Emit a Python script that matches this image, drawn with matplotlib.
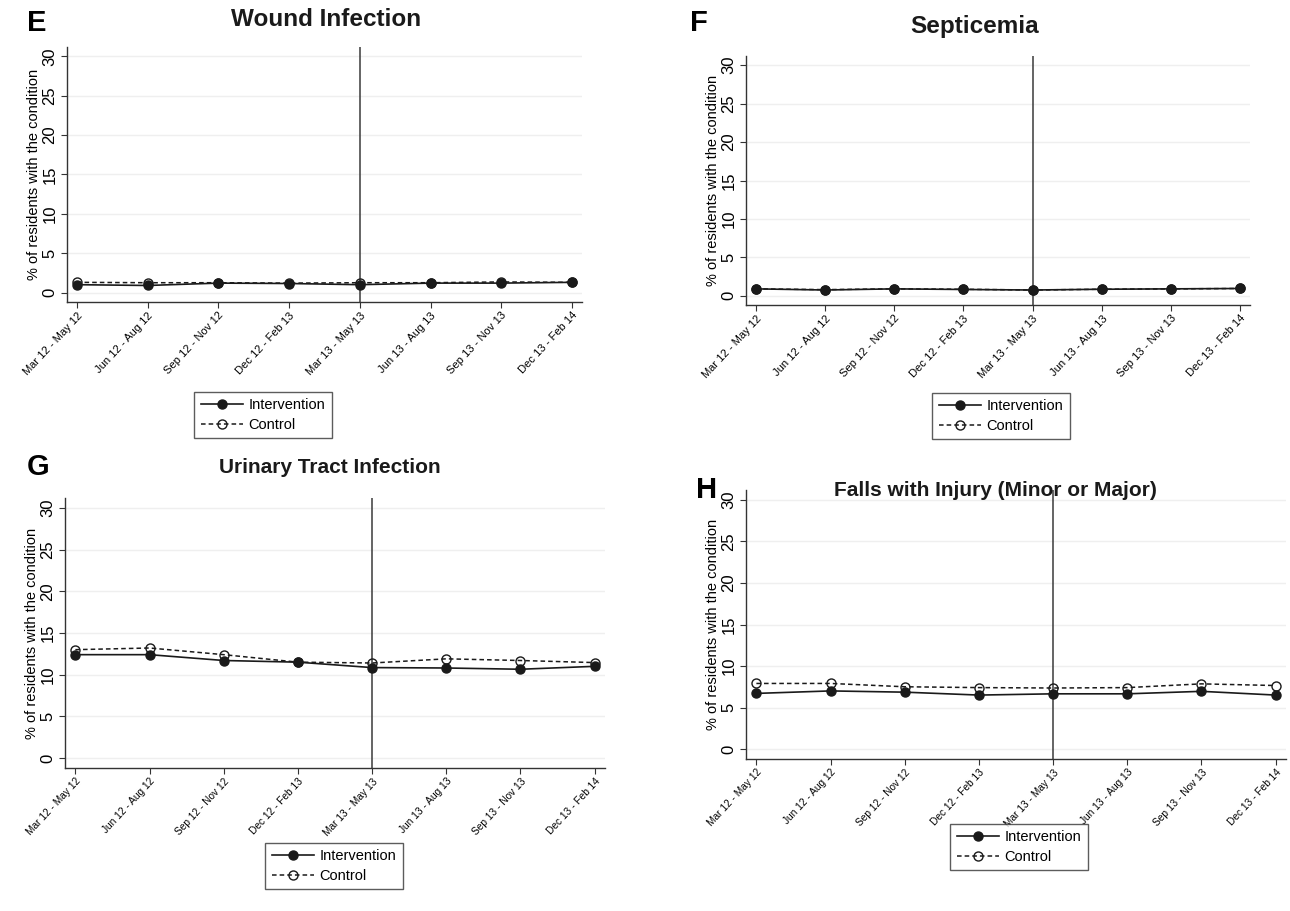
import matplotlib
matplotlib.use("Agg")
import matplotlib.pyplot as plt

plt.rcParams['font.family'] = ['Liberation Sans', 'DejaVu Sans']

periods = ["Mar 12 - May 12", "Jun 12 - Aug 12", "Sep 12 - Nov 12", "Dec 12 - Feb 13",
           "Mar 13 - May 13", "Jun 13 - Aug 13", "Sep 13 - Nov 13", "Dec 13 - Feb 14"]
yticks = [0, 5, 10, 15, 20, 25, 30]
series_names = ["Intervention", "Control"]

wound_int = [1.0, 0.9, 1.2, 1.15, 1.0, 1.2, 1.2, 1.3]
wound_ctl = [1.3, 1.25, 1.25, 1.2, 1.25, 1.25, 1.35, 1.3]

septic_int = [0.9, 0.75, 0.9, 0.82, 0.75, 0.85, 0.9, 0.95]
septic_ctl = [0.9, 0.8, 0.9, 0.85, 0.75, 0.85, 0.9, 0.95]

uti_int = [12.4, 12.4, 11.7, 11.5, 10.85, 10.8, 10.65, 11.0]
uti_ctl = [13.0, 13.2, 12.4, 11.5, 11.4, 11.9, 11.7, 11.45]

falls_int = [6.7, 7.0, 6.85, 6.5, 6.65, 6.65, 6.95, 6.5]
falls_ctl = [7.9, 7.9, 7.5, 7.4, 7.35, 7.4, 7.85, 7.65]

fig = plt.figure(figsize=(12.9, 9.11), dpi=100)
W, H = 1290, 911


def px_rect(x0, y0, x1, y1):
    # pixel box (top-left origin) -> figure fraction
    return [x0 / W, 1 - y1 / H, (x1 - x0) / W, (y1 - y0) / H]


def panel(rect, letter, letter_xy, title, title_xy, title_size, xlab_size,
          interv, control, legend_xy):
    ax = fig.add_axes(px_rect(*rect))
    x = list(range(len(periods)))
    ax.axvline(4, color='#3a3a3a', lw=1.1, zorder=1)
    for v in yticks:
        ax.axhline(v, color='#efefef', lw=1.0, zorder=0)
    ax.plot(x, control, color='#1a1a1a', lw=1.1, dashes=(3, 2),
            marker='o', ms=6.5, mfc='none', mec='#1a1a1a', mew=1.0,
            label=series_names[1], zorder=3)
    ax.plot(x, interv, color='#1a1a1a', lw=1.2, marker='o', ms=6.5,
            mfc='#1a1a1a', mec='#1a1a1a', label=series_names[0], zorder=4)
    ax.set_xlim(-0.14, 7.14)
    ax.set_ylim(-1.2, 31.2)
    ax.set_yticks(yticks)
    ax.set_xticks(x)
    ax.set_xticklabels(periods, rotation=47, ha='right', rotation_mode='anchor',
                       fontsize=xlab_size)
    ax.tick_params(axis='y', labelrotation=90, labelsize=12, length=4, pad=3,
                   color='#333333')
    ax.tick_params(axis='x', length=4, pad=2, color='#333333')
    for lab in ax.get_yticklabels():
        lab.set_va('center')
    ax.set_ylabel("% of residents with the condition", fontsize=10.5, labelpad=1)
    for s in ['top', 'right']:
        ax.spines[s].set_visible(False)
    for s in ['left', 'bottom']:
        ax.spines[s].set_color('#333333')
        ax.spines[s].set_linewidth(1.0)

    fig.text(letter_xy[0] / W, 1 - letter_xy[1] / H, letter, fontsize=21,
             fontweight='bold', ha='center', va='center')
    fig.text(title_xy[0] / W, 1 - title_xy[1] / H, title, fontsize=title_size,
             fontweight='bold', ha='center', va='center', color='#1a1a1a')

    handles, labels = ax.get_legend_handles_labels()
    leg = ax.legend(handles[::-1], labels[::-1], loc='center',
                    bbox_to_anchor=(legend_xy[0] / W, 1 - legend_xy[1] / H),
                    bbox_transform=fig.transFigure, fontsize=10.5, handlelength=2.9,
                    frameon=True, fancybox=False, edgecolor='#333333',
                    borderpad=0.45, labelspacing=0.4, handletextpad=0.4)
    leg.get_frame().set_linewidth(1.0)
    return ax


panel((67, 47, 582, 302), "E", (37, 23), "Wound Infection", (326, 19), 17.5, 8.0,
      wound_int, wound_ctl, (263, 415))
panel((746, 56, 1250, 305), "F", (699, 23), "Septicemia", (975, 26), 17.5, 8.0,
      septic_int, septic_ctl, (1001, 416))
panel((65, 498, 605, 768), "G", (38, 467), "Urinary Tract Infection", (330, 467), 15, 7.3,
      uti_int, uti_ctl, (334, 866))
panel((746, 490, 1286, 759), "H", (707, 490), "Falls with Injury (Minor or Major)", (995, 490), 15, 7.3,
      falls_int, falls_ctl, (1019, 847))

fig.savefig("out.png", dpi=100)
